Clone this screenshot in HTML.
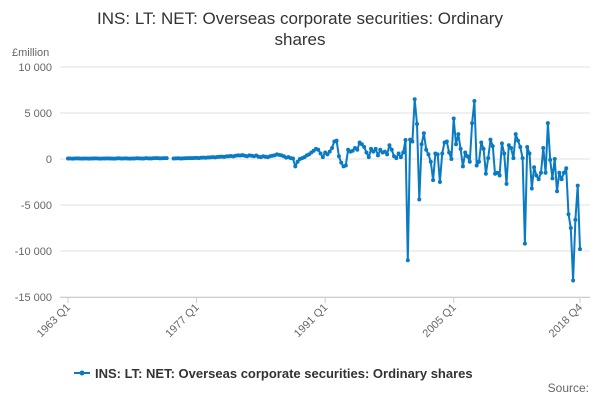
<!DOCTYPE html>
<html><head><meta charset="utf-8"><style>
body{margin:0;background:#fff;font-family:"Liberation Sans",sans-serif}
svg text{font-family:"Liberation Sans",sans-serif}
</style></head><body>
<svg id="c" width="600" height="400">
<text x="300" y="24" text-anchor="middle" font-size="17" fill="#333">INS: LT: NET: Overseas corporate securities: Ordinary</text>
<text x="300" y="45" text-anchor="middle" font-size="17" fill="#333">shares</text>
<text x="12" y="56" font-size="11" fill="#666">£million</text>
<g id="grid"></g><g id="xt"></g><g id="series"></g>
<g>
<line x1="74" y1="373" x2="90" y2="373" stroke="#0a7bc2" stroke-width="2"/>
<circle cx="82" cy="373" r="2.5" fill="#0a7bc2"/>
<text x="95" y="378" font-size="13" font-weight="bold" fill="#333">INS: LT: NET: Overseas corporate securities: Ordinary shares</text>
</g>
<text x="589" y="392" text-anchor="end" font-size="12" fill="#666">Source:</text>
</svg>
<script>
const yTicks=[10000,5000,0,-5000,-10000,-15000];
const yTickLabels=["10 000","5 000","0","-5 000","-10 000","-15 000"];
const xTickIdx=[0,56,112,168,223];
const xTickLabels=["1963 Q1","1977 Q1","1991 Q1","2005 Q1","2018 Q4"];
const values=[50,60,40,50,70,50,40,60,50,40,60,50,70,50,40,60,50,70,60,50,40,60,80,60,50,70,60,40,50,60,80,70,60,50,90,70,60,80,100,90,70,80,100,90,
null,null,
60,70,80,60,70,80,90,100,90,110,120,100,130,150,140,160,180,200,180,220,240,260,230,280,300,320,280,350,400,380,420,350,300,
400,350,300,380,250,200,300,
250,200,300,350,400,500,450,400,300,150,
200,100,50,-800,
-300,0,100,200,400,
500,700,900,1100,1000,600,
200,700,500,800,
1200,1900,2000,
300,-400,-800,-700,
1000,800,900,1200,1000,
1800,1600,1300,
700,200,1100,800,1100,400,
1000,700,800,500,1500,1000,
300,100,600,200,700,
2070,-11000,2100,1900,6500,3800,-4400,1600,2800,1000,500,-300,-2300,600,500,-2500,600,1800,1900,700,0,4400,1600,2700,1100,-800,700,300,-300,3900,6300,-700,-300,1800,1100,-1600,100,2100,1400,-1600,-1500,-1800,1700,600,-2700,1500,1200,100,2700,2000,1300,100,-9200,1300,600,-3200,-900,-1800,-2200,-1500,1200,-1500,3900,-100,-2100,0,-3500,-1500,-2200,-1500,-1000,-6000,-7500,-13200,-6600,-2900,-9800];
const NS="http://www.w3.org/2000/svg";
const x0=68,x1=580,n=values.length;
const X=i=>x0+i*(x1-x0)/(n-1);
const Y=v=>159-v*46/5000;
function mk(t,a,p){const e=document.createElementNS(NS,t);for(const k in a)e.setAttribute(k,a[k]);p.appendChild(e);return e;}
const grid=document.getElementById('grid');
yTicks.forEach((v,k)=>{
 const l=mk('line',{x1:60,x2:590,y1:Y(v),y2:Y(v),stroke:'#e0e0e0','stroke-width':1},grid);
 
 
 const t=mk('text',{x:52,y:Y(v)+4,'text-anchor':'end','font-size':11,fill:'#666'},grid);
 t.textContent=yTickLabels[k];
 
 
});
const xt=document.getElementById('xt');
mk('line',{x1:60,x2:590,y1:297.5,y2:297.5,stroke:'#ccc'},xt);
xTickIdx.forEach((i,k)=>{
 const x=X(i);
 const tk=mk('line',{x1:x,x2:x,y1:297,y2:303,stroke:'#ccc'},xt);
 
 
 const t=mk('text',{x:x+3,y:308,'text-anchor':'end','font-size':11,fill:'#666',transform:`rotate(-45 ${x+3} 308)`},xt);
 t.textContent=xTickLabels[k];
 
 
});
const s=document.getElementById('series');
let d='',pen=false;
values.forEach((v,i)=>{if(v===null){pen=false;return;}d+=(pen?'L':'M')+X(i).toFixed(1)+' '+Y(v).toFixed(1);pen=true;});
const p=mk('path',{d:d,fill:'none',stroke:'#0a7bc2','stroke-width':2,'stroke-linejoin':'round'},s);


values.forEach((v,i)=>{if(v===null)return;
 const c=mk('circle',{cx:X(i),cy:Y(v),r:2,fill:'#0a7bc2'},s);
 
 
});
</script>
</body></html>
